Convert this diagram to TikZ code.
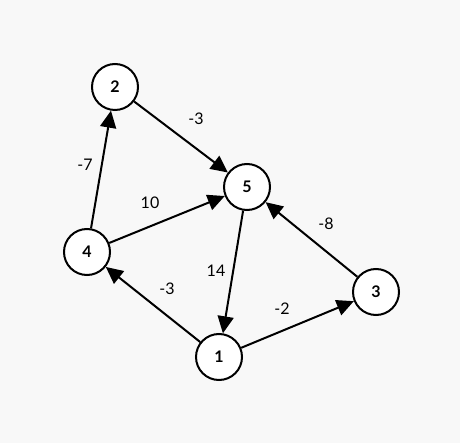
\documentclass[tikz,border=0pt]{standalone}
\usepackage{fontspec}
\setmainfont{Lato}
\usetikzlibrary{arrows.meta}
\definecolor{bg}{HTML}{F8F8F8}
\begin{document}
\begin{tikzpicture}[x=1pt,y=-1pt,
  vert/.style={circle,draw,line width=2pt,fill=white,minimum size=46pt,inner sep=0pt,font=\fontsize{16}{16}\selectfont\bfseries},
  edge/.style={line width=2pt,-{Triangle[length=17pt,width=16pt]}},
  wlab/.style={font=\fontsize{16}{16}\selectfont}]
\fill[bg] (0,0) rectangle (460,443);
\useasboundingbox (0,0) rectangle (460,443);
\node[vert] (n2) at (115,87) {2};
\node[vert] (n5) at (247,187) {5};
\node[vert] (n4) at (87,252) {4};
\node[vert] (n1) at (219,357) {1};
\node[vert] (n3) at (376,292) {3};
\draw[edge] (n2) -- (n5);
\draw[edge] (n4) -- (n2);
\draw[edge] (n4) -- (n5);
\draw[edge] (n5) -- (n1);
\draw[edge] (n1) -- (n4);
\draw[edge] (n1) -- (n3);
\draw[edge] (n3) -- (n5);
\node[wlab] (l25) at (196,119) {-3};
\node[wlab] (l42) at (85,165) {-7};
\node[wlab] (l45) at (150,203) {10};
\node[wlab] (l51) at (216,271) {14};
\node[wlab] (l14) at (167,289) {-3};
\node[wlab] (l13) at (282,309) {-2};
\node[wlab] (l35) at (326,224) {-8};
\end{tikzpicture}
\end{document}
